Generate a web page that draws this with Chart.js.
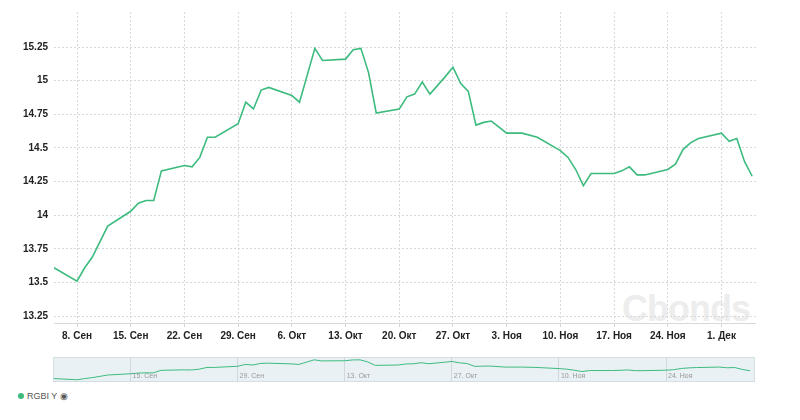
<!DOCTYPE html>
<html>
<head>
<meta charset="utf-8">
<script src="https://cdn.jsdelivr.net/npm/chart.js@4"></script>
<style>
  body { margin: 0; background: #fff; font-family: Arial, "Liberation Sans", sans-serif; }
  #wrap { position: relative; width: 800px; height: 420px; }
  #main { position: absolute; left: 0; top: 0; width: 756px; height: 345px; }
  #nav { position: absolute; left: 53px; top: 357px; width: 702px; height: 25px; border: 1px solid #d5dde3; background: #eaf1f5; box-sizing: border-box; }
  #legend { position: absolute; left: 18px; top: 391px; font-size: 9px; color: #555; }
  #legend span.dot { display: inline-block; width: 6px; height: 6px; border-radius: 3px; background: #3dbb7f; margin-right: 3px; }
  #mark { position: absolute; left: 622px; top: 288px; font-size: 36px; color: #ededed; font-weight: bold; letter-spacing: -1px; }
</style>
</head>
<body>
<div id="wrap">
  <div id="mark">Cbonds</div>
  <div id="main"><canvas id="c1"></canvas></div>
  <div id="nav"><canvas id="c2"></canvas></div>
  <div id="legend"><span class="dot"></span>RGBI Y &#9673;</div>
</div>
<script>
// day index from 5 Sep
const days = [0,3,4,5,7,10,11,12,13,14,17,18,19,20,21,24,25,26,27,28,31,32,34,35,38,39,40,41,42,45,46,47,48,49,51,52,53,54,55,56,57,59,61,63,66,67,68,69,70,73,74,75,76,77,80,81,82,83,84,87,88,89,90,91];
const values = [13.61,13.51,13.61,13.69,13.92,14.03,14.09,14.11,14.11,14.33,14.37,14.36,14.43,14.58,14.58,14.68,14.84,14.79,14.93,14.95,14.89,14.84,15.24,15.15,15.16,15.23,15.24,15.06,14.76,14.79,14.88,14.90,14.99,14.90,15.03,15.10,14.98,14.92,14.67,14.69,14.70,14.61,14.61,14.58,14.48,14.43,14.34,14.22,14.31,14.31,14.33,14.36,14.30,14.30,14.34,14.38,14.49,14.54,14.57,14.61,14.55,14.57,14.40,14.29];
const tickDays = [3,10,17,24,31,38,45,52,59,66,73,80,87];
const tickLabels = ['8. Сен','15. Сен','22. Сен','29. Сен','6. Окт','13. Окт','20. Окт','27. Окт','3. Ноя','10. Ноя','17. Ноя','24. Ноя','1. Дек'];
const yTicks = [13.25,13.5,13.75,14,14.25,14.5,14.75,15,15.25];
const navDays = [10,24,38,52,66,80];
const navLabels = ['15. Сен','29. Сен','13. Окт','27. Окт','10. Ноя','24. Ноя'];

const pts = days.map((d, i) => ({ x: d, y: values[i] }));
const green = '#3dbb7f';

new Chart(document.getElementById('c1'), {
  type: 'line',
  data: { datasets: [{ label: 'RGBI Y', data: pts, borderColor: green, borderWidth: 1.6, pointRadius: 0, tension: 0 }] },
  options: {
    responsive: true, maintainAspectRatio: false, animation: false,
    layout: { padding: { left: 18, top: 12, right: 0 } },
    plugins: { legend: { display: false }, tooltip: { enabled: false } },
    scales: {
      x: {
        type: 'linear', min: 0, max: 91.5,
        afterBuildTicks: ax => { ax.ticks = tickDays.map(v => ({ value: v })); },
        ticks: { callback: (v) => tickLabels[tickDays.indexOf(v)], color: '#222', font: { size: 10, weight: 'bold' }, maxRotation: 0, autoSkip: false },
        grid: { color: '#d8d8d8', tickLength: 4 },
        border: { display: true, color: '#d8d8d8', dash: [2, 2] }
      },
      y: {
        min: 13.2, max: 15.51,
        afterBuildTicks: ax => { ax.ticks = yTicks.map(v => ({ value: v })); },
        afterFit: ax => { ax.width = 36; },
        ticks: { callback: v => String(v), autoSkip: false, color: '#222', font: { size: 10, weight: 'bold' }, padding: 6 },
        grid: { color: '#d8d8d8', drawTicks: false },
        border: { display: false, dash: [2, 2] }
      }
    }
  }
});

new Chart(document.getElementById('c2'), {
  type: 'line',
  data: { datasets: [{ data: pts, borderColor: green, borderWidth: 1, pointRadius: 0, fill: false }] },
  options: {
    responsive: true, maintainAspectRatio: false, animation: false,
    layout: { padding: 0 },
    plugins: { legend: { display: false }, tooltip: { enabled: false } },
    scales: {
      x: {
        type: 'linear', min: 0, max: 91.5,
        afterBuildTicks: ax => { ax.ticks = navDays.map(v => ({ value: v })); },
        ticks: { display: false },
        grid: { color: '#d0d8de', drawTicks: false },
        border: { display: false }
      },
      y: { min: 13.4, max: 15.4, display: false }
    }
  },
  plugins: [{
    id: 'navLabels',
    afterDraw(chart) {
      const c = chart.ctx, xs = chart.scales.x;
      c.save();
      c.fillStyle = '#999'; c.font = '7px Arial';
      navDays.forEach((d, i) => c.fillText(navLabels[i], xs.getPixelForValue(d) + 2, chart.chartArea.bottom - 3));
      c.restore();
    }
  }]
});
</script>
</body>
</html>
